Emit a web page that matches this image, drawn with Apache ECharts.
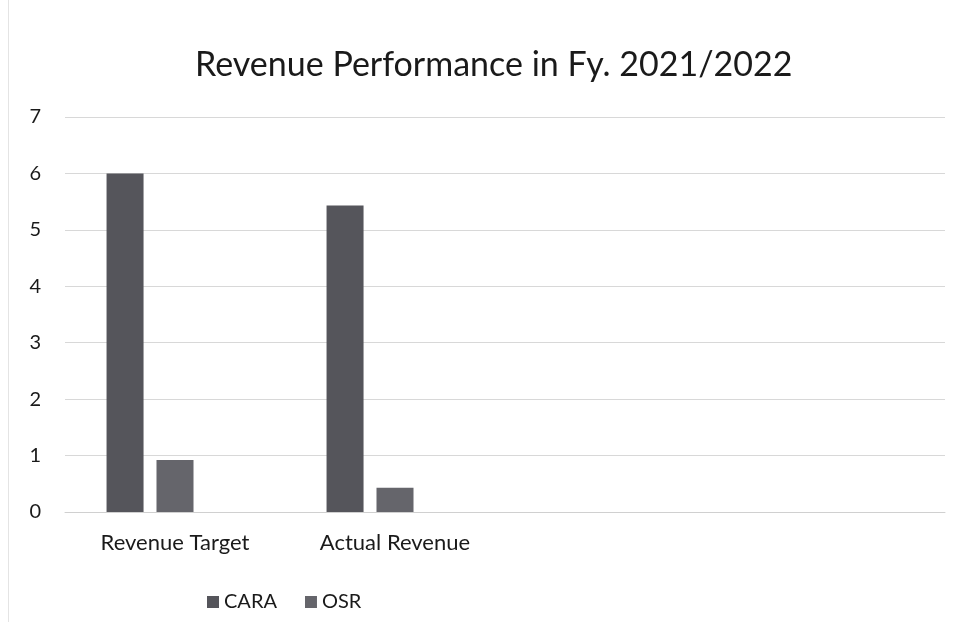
<!DOCTYPE html>
<html>
<head>
<meta charset="utf-8">
<script src="https://cdn.jsdelivr.net/npm/echarts@6/dist/echarts.min.js"></script>
<style>
  html, body { margin: 0; padding: 0; background: #fff; }
  #chart { width: 958px; height: 622px; }
</style>
</head>
<body>
<div id="chart"></div>
<script>
// chart data
var categories = ['Revenue Target', 'Actual Revenue', '', ''];
var caraValues = [6, 5.43, null, null];
var osrValues = [0.92, 0.43, null, null];
var emptyValues = [null, null, null, null];
var yTicks = [0, 1, 2, 3, 4, 5, 6, 7];

var font = 'Lato, "Open Sans", sans-serif';
var myChart = echarts.init(document.getElementById('chart'));

var option = {
    backgroundColor: '#ffffff',
    title: {
        text: 'Revenue Performance in Fy. 2021/2022',
        left: 190,
        top: 43,
        textStyle: { fontFamily: font, fontSize: 34, fontWeight: 'normal', color: '#1a1a1a' }
    },
    legend: {
        data: ['CARA', 'OSR'],
        left: 202,
        top: 587,
        itemWidth: 12,
        itemHeight: 12,
        itemGap: 28,
        icon: 'rect',
        textStyle: { fontFamily: font, fontSize: 20, color: '#1a1a1a' }
    },
    grid: { left: 65, right: 13, top: 117, bottom: 110 },
    xAxis: {
        type: 'category',
        data: categories,
        axisTick: { show: false },
        axisLine: { lineStyle: { color: '#d0d0d0' } },
        axisLabel: { fontFamily: font, fontSize: 22, color: '#1a1a1a', margin: 20 }
    },
    yAxis: {
        type: 'value',
        min: yTicks[0],
        max: yTicks[yTicks.length - 1],
        interval: 1,
        axisLine: { show: false },
        axisTick: { show: false },
        splitLine: { lineStyle: { color: '#d8d8d8' } },
        axisLabel: { fontFamily: font, fontSize: 20, color: '#1a1a1a', margin: 24 }
    },
    series: [
        {
            name: 'CARA', type: 'bar', data: caraValues,
            barWidth: 37, barGap: '35%',
            itemStyle: { color: '#55555b' }
        },
        {
            name: 'OSR', type: 'bar', data: osrValues,
            barWidth: 37,
            itemStyle: { color: '#65656b' }
        },
        {
            name: '', type: 'bar', data: emptyValues,
            barWidth: 37,
            itemStyle: { color: '#888' }
        }
    ],
    graphic: [
        { type: 'rect', shape: { x: 8, y: 0, width: 1, height: 622 }, style: { fill: '#e4e4e4' } }
    ]
};

myChart.setOption(option);
</script>
</body>
</html>
